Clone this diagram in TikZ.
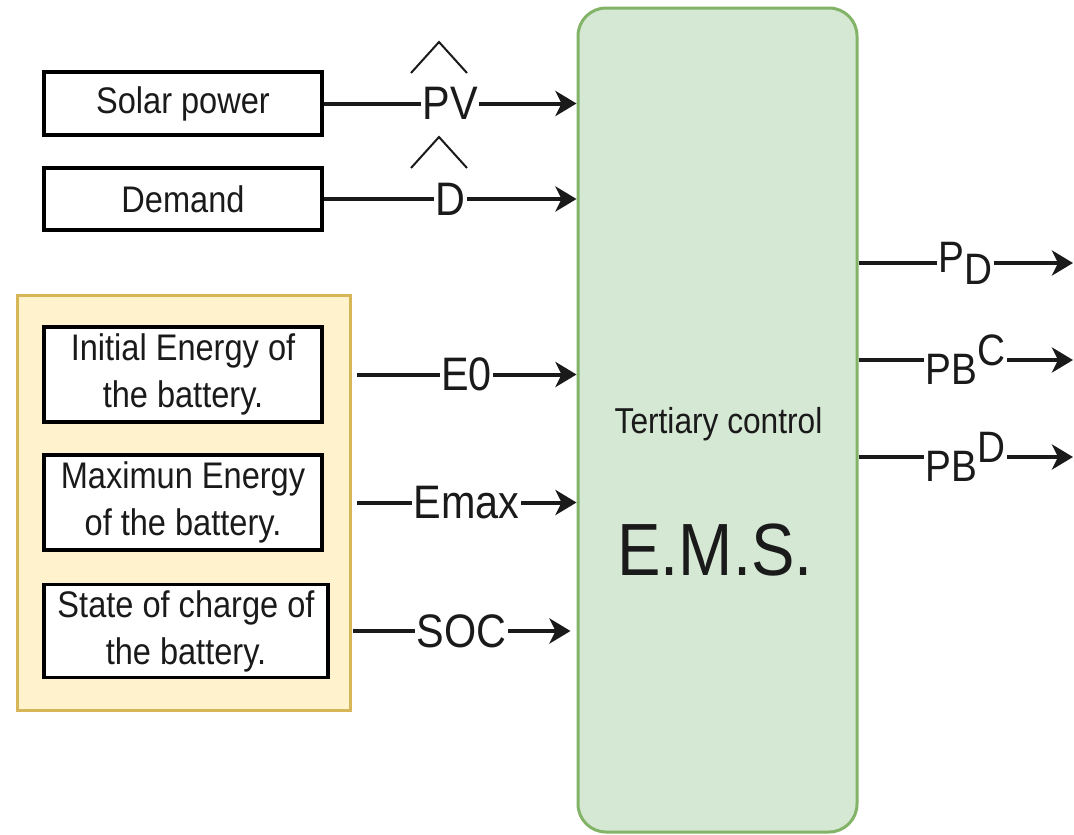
\documentclass[tikz,border=0pt]{standalone}
\usepackage{fontspec}
\setmainfont{Liberation Sans}[FakeStretch=0.88]
\usetikzlibrary{arrows.meta}
\definecolor{emsfill}{HTML}{D5E8D4}
\definecolor{emsdraw}{HTML}{82B366}
\definecolor{grpfill}{HTML}{FFF2CC}
\definecolor{grpdraw}{HTML}{D6B656}
\definecolor{ink}{HTML}{1A1A1A}
\newcommand\bxfont{\fontsize{37}{47}\selectfont}
\newcommand\lbfont{\fontsize{47}{50}\selectfont}
\newcommand\outfont{\fontsize{44}{50}\selectfont}
\tikzset{
  inbox/.style={draw=black, line width=3.5pt, fill=white, minimum width=278pt,
    align=center, font=\bxfont, text=ink, inner sep=0pt},
  conn/.style={line width=4pt, draw=ink, -{Stealth[length=21pt,width=25pt,inset=6pt]}},
  lbl/.style={fill=white, inner xsep=1.5pt, inner ysep=1pt, font=\lbfont, text=ink},
  olbl/.style={fill=white, inner xsep=1.5pt, inner ysep=1pt, font=\outfont, text=ink},
  hat/.style={line width=2pt, draw=ink, line join=miter},
}
\begin{document}
\begin{tikzpicture}[x=1pt,y=-1pt]
\useasboundingbox (0,0) rectangle (1074,835);
\fill[white] (0,0) rectangle (1074,835);

% controller block
\node[draw=emsdraw, fill=emsfill, line width=3pt, rounded corners=28pt,
      minimum width=279pt, minimum height=824pt, inner sep=0pt] (ems) at (717.5,420) {};
\node[font=\fontsize{36}{40}\selectfont, text=ink, anchor=base] (tert) at (718.5,433) {Tertiary control};
\node[font=\fontsize{74}{80}\selectfont, text=ink, anchor=base] (emst) at (715,575) {E.M.S.};

% forecast inputs
\node[inbox, minimum height=63pt] (solar) at (183,103.5) {Solar power};
\node[inbox, minimum height=62pt] (demand) at (183,199) {Demand};

% battery group
\node[draw=grpdraw, fill=grpfill, line width=3pt, minimum width=333pt,
      minimum height=415pt, inner sep=0pt] (grp) at (183.5,502.5) {};
\node[inbox, minimum height=95pt] (init) at (183,374.5) {Initial Energy of\\the battery.};
\node[inbox, minimum height=95pt] (emax) at (183,502.5) {Maximun Energy\\of the battery.};
\node[inbox, minimum width=284pt, minimum height=93pt] (soc) at (186,631) {State of charge of\\the battery.};

% input connectors
\draw[conn] (solar.east) -- node[lbl] (pvl) {PV} (solar.east -| ems.west);
\draw[conn] (demand.east) -- node[lbl] (dl) {D} (demand.east -| ems.west);
\draw[hat] (411,73) -- (439,42) -- (467,73);
\draw[hat] (411,168) -- (439,137) -- (467,168);

\coordinate (e0s) at ([xshift=5pt]grp.east |- init.east);
\coordinate (ems0) at ([xshift=5pt]grp.east |- emax.east);
\coordinate (socs) at ([xshift=1pt]grp.east |- soc.east);
\draw[conn] (e0s) -- node[lbl] (e0l) {E0} (e0s -| ems.west);
\draw[conn] (ems0) -- node[lbl] (emaxl) {Emax} (ems0 -| ems.west);
\draw[conn] (socs) -- node[lbl] (socl) {SOC} ([xshift=-6pt]socs -| ems.west);

% outputs
\coordinate (pdo) at (1073,263);
\coordinate (pbco) at (1073,360);
\coordinate (pbdo) at (1073,457);
\draw[conn] (ems.east |- pdo) -- node[olbl] (pdl) {P\raisebox{-12pt}{D}} (pdo);
\draw[conn] (ems.east |- pbco) -- node[olbl] (pbcl) {PB\raisebox{19pt}{C}} (pbco);
\draw[conn] (ems.east |- pbdo) -- node[olbl] (pbdl) {PB\raisebox{19pt}{D}} (pbdo);
\end{tikzpicture}
\end{document}
